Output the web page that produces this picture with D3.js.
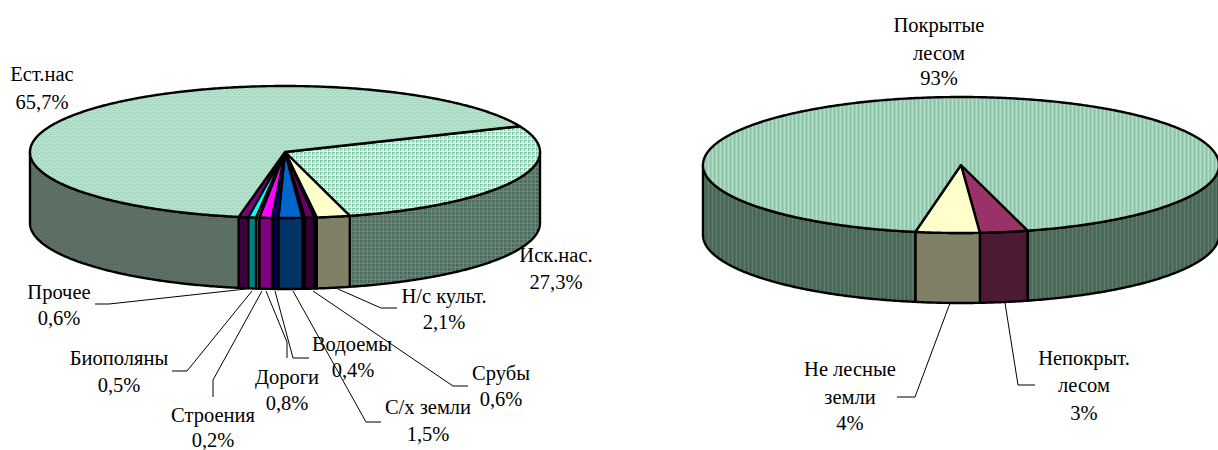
<!DOCTYPE html>
<html><head><meta charset="utf-8">
<script src="https://cdn.jsdelivr.net/npm/d3@7"></script>
<style>html,body{margin:0;background:#fff}svg{display:block}text{font-family:"Liberation Serif",serif;font-size:20.5px;fill:#000;text-anchor:middle}</style>
</head><body><svg id="c" width="1218" height="450"></svg>
<script>
// Left pie, clockwise from the Ест.нас / Иск.нас boundary
const leftNames  = ["Иск.нас.","Н/с культ.","","Срубы","","С/х земли","Водоемы","Дороги","Строения","Биополяны","Прочее","Ест.нас"];
const leftValues = [27.3,2.1,0.15,0.6,0.15,1.5,0.4,0.8,0.2,0.5,0.6,65.7];
const leftTop  = ["url(#isk)","#ffffcc","#ccffff","#660066","#ff8080","#0066cc","#000080","#ff00ff","#ffff00","#00ffff","#800080","url(#est)"];
const leftSide = ["url(#iskS)","#808066","#668080","#330033","#804040","#003366","#000040","#800080","#808000","#008080","#400040","url(#estS)"];
// Right pie
const rightNames  = ["Покрытые лесом","Непокрыт. лесом","Не лесные земли"];
const rightValues = [93,3,4];
const rightTop  = ["url(#cov)","#993366","#ffffcc"];
const rightSide = ["url(#covS)","#4d1a33","#808066"];
// label text: [lines, x, y of each line]
const leftLabels = [
 [["Ест.нас","65,7%"],42,[74,102]],[["Иск.нас.","27,3%"],556,[255,282]],
 [["Н/с культ.","2,1%"],444,[296,322]],[["Срубы","0,6%"],501,[373,399]],
 [["С/х земли","1,5%"],428,[407,434]],[["Водоемы"],352,[344]],[["0,4%"],353,[370]],
 [["Дороги","0,8%"],287,[377,403]],[["Строения","0,2%"],213,[415,440]],
 [["Биополяны","0,5%"],119,[358,385]],[["Прочее","0,6%"],59,[292,318]]];
const rightLabels = [
 [["Покрытые","лесом","93%"],939,[25,53,78]],
 [["Не лесные","земли","4%"],850,[369,397,423]],
 [["Непокрыт.","лесом","3%"],1084,[358,385,413]]];
const leaders = [
 [[95,304],[109,304],[246,289]],[[172,371],[187,371],[252,291]],[[213,397],[213,380],[262,291]],
 [[287,358],[287,342],[266,291]],[[309,358],[293,358],[275,291]],[[381,422],[366,422],[293,291]],
 [[468,386],[453,386],[313,291]],[[397,308],[381,308],[338,289]],
 [[897,397],[915,397],[950,303]],[[1035,385],[1018,385],[1005,303]]];

const svg = d3.select("#c"), defs = svg.append("defs");
function pat(id,w,h,bg,cells){
  const p=defs.append("pattern").attr("id",id).attr("patternUnits","userSpaceOnUse").attr("width",w).attr("height",h);
  p.append("rect").attr("width",w).attr("height",h).attr("fill",bg);
  cells.forEach(c=>p.append("rect").attr("x",c[0]).attr("y",c[1]).attr("width",c[2]).attr("height",c[3]).attr("fill",c[4]));
}
pat("est",4,4,"#b4dfca",[[0,0,2,1,"#a0d2b9"],[2,2,2,1,"#a0d2b9"],[1,1,1,1,"#c8e8d8"],[3,3,1,1,"#c8e8d8"]]);
pat("isk",4,4,"#e4f4ec",[[0,0,3,1,"#84c6a8"],[0,0,1,3,"#84c6a8"],[1,1,2,2,"#c4e4d4"]]);
pat("estS",4,4,"#5c7065",[[0,0,2,1,"#536459"],[2,2,2,1,"#536459"],[1,1,1,1,"#687d71"],[3,3,1,1,"#687d71"]]);
pat("iskS",4,4,"#72857a",[[0,0,3,1,"#4a6a5c"],[0,0,1,3,"#4a6a5c"],[1,1,2,2,"#5c7468"]]);
pat("cov",4,4,"#99cfb2",[[0,0,1,4,"#b4dec8"],[2,0,1,4,"#8cc6a8"]]);
pat("covS",4,4,"#4f6e5c",[[0,0,1,4,"#5c7a69"],[2,0,1,4,"#466352"]]);

const T=Math.PI*2;
function drawPie(o){
  const x=d3.scaleLinear().domain([-1,1]).range([o.cx-o.rx,o.cx+o.rx]);
  const y=d3.scaleLinear().domain([-1,1]).range([o.cy-o.ry,o.cy+o.ry]);
  const arcs=d3.pie().sort(null).startAngle(o.start).endAngle(o.start+T)(o.values);
  const pt=a=>[x(Math.sin(a)),y(-Math.cos(a))];
  const samp=(a,b)=>{const n=Math.max(2,Math.ceil(Math.abs(b-a)/0.01));return d3.range(n+1).map(i=>a+(b-a)*i/n);};
  const line=d3.line();
  const g=svg.append("g");
  const sw=[];
  arcs.forEach((d,i)=>{
    [0,T].forEach(k=>{
      const a=Math.max(d.startAngle-k,Math.PI/2), b=Math.min(d.endAngle-k,Math.PI*1.5);
      if(b>a){
        const top=samp(a,b).map(pt), bot=top.map(p=>[p[0],p[1]+o.depth]).reverse();
        sw.push([line(top.concat(bot))+"Z",o.side[i]]);
      }
    });
  });
  g.selectAll("path.w").data(sw).join("path").attr("class","w").attr("d",d=>d[0]).attr("fill",d=>d[1])
    .attr("stroke","#000").attr("stroke-width",o.sw).attr("stroke-linejoin","round");
  g.selectAll("path.t").data(arcs).join("path").attr("class","t")
    .attr("d",d=>line([[o.cx,o.cy]].concat(samp(d.startAngle,d.endAngle).map(pt)))+"Z")
    .attr("fill",(d,i)=>o.top[i]).attr("stroke","#000").attr("stroke-width",o.sw).attr("stroke-linejoin","round");
}
const deg=Math.PI/180;
drawPie({cx:285,cy:152,rx:255,ry:66,depth:71,sw:2.4,start:67*deg,values:leftValues,top:leftTop,side:leftSide});
drawPie({cx:961,cy:165,rx:258,ry:68,depth:70,sw:2.4,start:165*deg,values:[rightValues[1],rightValues[2],rightValues[0]],
  top:[rightTop[1],rightTop[2],rightTop[0]],side:[rightSide[1],rightSide[2],rightSide[0]]});

svg.append("g").selectAll("path").data(leaders).join("path").attr("d",d3.line()).attr("fill","none").attr("stroke","#000").attr("stroke-width",1);
const lab=svg.append("g");
leftLabels.concat(rightLabels).forEach(l=>l[0].forEach((s,i)=>lab.append("text").attr("x",l[1]).attr("y",l[2][i]).attr("dy","0.35em").text(s)));
</script></body></html>
